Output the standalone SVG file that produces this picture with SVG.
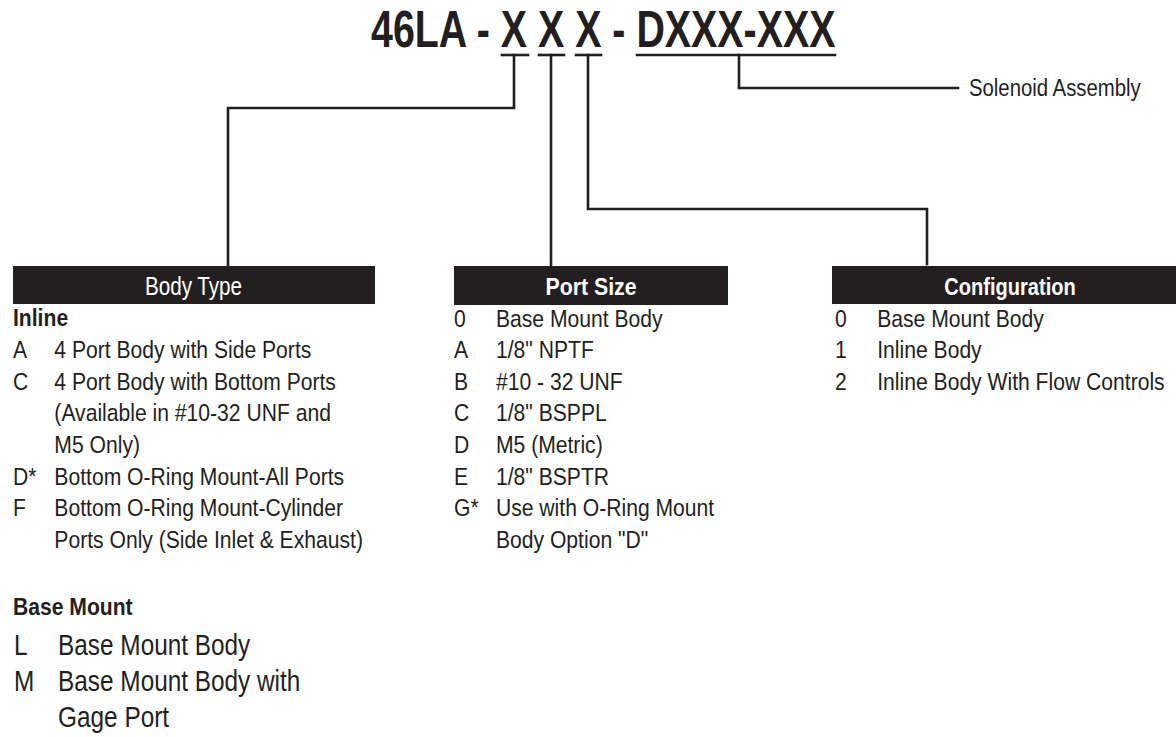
<svg xmlns="http://www.w3.org/2000/svg" width="1176" height="737" viewBox="0 0 1176 737">
<style>
.t{font-family:"Liberation Sans",Arial,sans-serif;fill:#231f20}
.s{font-size:24px}
.l{font-size:29px}
.b{font-weight:bold}
.hd{fill:#231f20}
.hw{font-family:"Liberation Sans",Arial,sans-serif;fill:#ffffff;text-anchor:middle}
.ln{stroke:#231f20;stroke-width:2.6;fill:none;stroke-linecap:square}
</style>
<rect width="1176" height="737" fill="#ffffff"/>
<g id="title">
<text class="t b" transform="translate(371,47) scale(0.772,1)" x="0" y="0" font-size="51">46LA - X X X - DXXX-XXX</text>
</g>
<g id="connectors">
<path class="ln" d="M502,55 H528"/>
<path class="ln" d="M539,55 H564"/>
<path class="ln" d="M576,55 H601"/>
<path class="ln" d="M637,55 H835"/>
<path class="ln" d="M514,55 V108 H228 V265"/>
<path class="ln" d="M551,55 V265"/>
<path class="ln" d="M588,55 V209 H927 V264"/>
<path class="ln" d="M739,55 V88 H958"/>
</g>
<g id="solenoid">
<text class="t" transform="translate(969,96) scale(0.83,1)" x="0" y="0" font-size="24.5">Solenoid Assembly</text>
</g>
<g id="body-type">
<rect class="hd" x="13" y="266" width="362" height="38"/>
<text class="hw" transform="translate(193.5,294.5) scale(0.81,1)" x="0" y="0" font-size="25.5">Body Type</text>
<g transform="translate(13,0) scale(0.88,1)">
<text class="t s b" x="0" y="326">Inline</text>
<text class="t s" x="0" y="358">A</text><text class="t s" x="47" y="358">4 Port Body with Side Ports</text>
<text class="t s" x="0" y="390">C</text><text class="t s" x="47" y="390">4 Port Body with Bottom Ports</text>
<text class="t s" x="47" y="421.5">(Available in #10-32 UNF and</text>
<text class="t s" x="47" y="453">M5 Only)</text>
<text class="t s" x="0" y="485">D*</text><text class="t s" x="47" y="485">Bottom O-Ring Mount-All Ports</text>
<text class="t s" x="0" y="516.5">F</text><text class="t s" x="47" y="516.5">Bottom O-Ring Mount-Cylinder</text>
<text class="t s" x="47" y="548">Ports Only (Side Inlet &amp; Exhaust)</text>
<text class="t s b" x="0" y="615">Base Mount</text>
</g>
<g transform="translate(14,0) scale(0.84,1)">
<text class="t l" x="0" y="655">L</text><text class="t l" x="52.5" y="655">Base Mount Body</text>
<text class="t l" x="0" y="691">M</text><text class="t l" x="52.5" y="691">Base Mount Body with</text>
<text class="t l" x="52.5" y="727">Gage Port</text>
</g>
</g>
<g id="port-size">
<rect class="hd" x="454" y="266" width="274" height="39"/>
<text class="hw" transform="translate(591,295) scale(0.87,1)" x="0" y="0" font-size="24.5" font-weight="bold">Port Size</text>
<g transform="translate(454,0) scale(0.88,1)">
<text class="t s" x="0" y="327">0</text><text class="t s" x="47.7" y="327">Base Mount Body</text>
<text class="t s" x="0" y="358.5">A</text><text class="t s" x="47.7" y="358.5">1/8" NPTF</text>
<text class="t s" x="0" y="390">B</text><text class="t s" x="47.7" y="390">#10 - 32 UNF</text>
<text class="t s" x="0" y="421.5">C</text><text class="t s" x="47.7" y="421.5">1/8" BSPPL</text>
<text class="t s" x="0" y="453">D</text><text class="t s" x="47.7" y="453">M5 (Metric)</text>
<text class="t s" x="0" y="485">E</text><text class="t s" x="47.7" y="485">1/8" BSPTR</text>
<text class="t s" x="0" y="516.5">G*</text><text class="t s" x="47.7" y="516.5">Use with O-Ring Mount</text>
<text class="t s" x="47.7" y="548">Body Option "D"</text>
</g>
</g>
<g id="configuration">
<rect class="hd" x="832" y="266" width="344" height="38"/>
<text class="hw" transform="translate(1010,295) scale(0.82,1)" x="0" y="0" font-size="24.5" font-weight="bold">Configuration</text>
<g transform="translate(835,0) scale(0.88,1)">
<text class="t s" x="0" y="327">0</text><text class="t s" x="48" y="327">Base Mount Body</text>
<text class="t s" x="0" y="358.5">1</text><text class="t s" x="48" y="358.5">Inline Body</text>
<text class="t s" x="0" y="390">2</text><text class="t s" x="48" y="390">Inline Body With Flow Controls</text>
</g>
</g>
</svg>
